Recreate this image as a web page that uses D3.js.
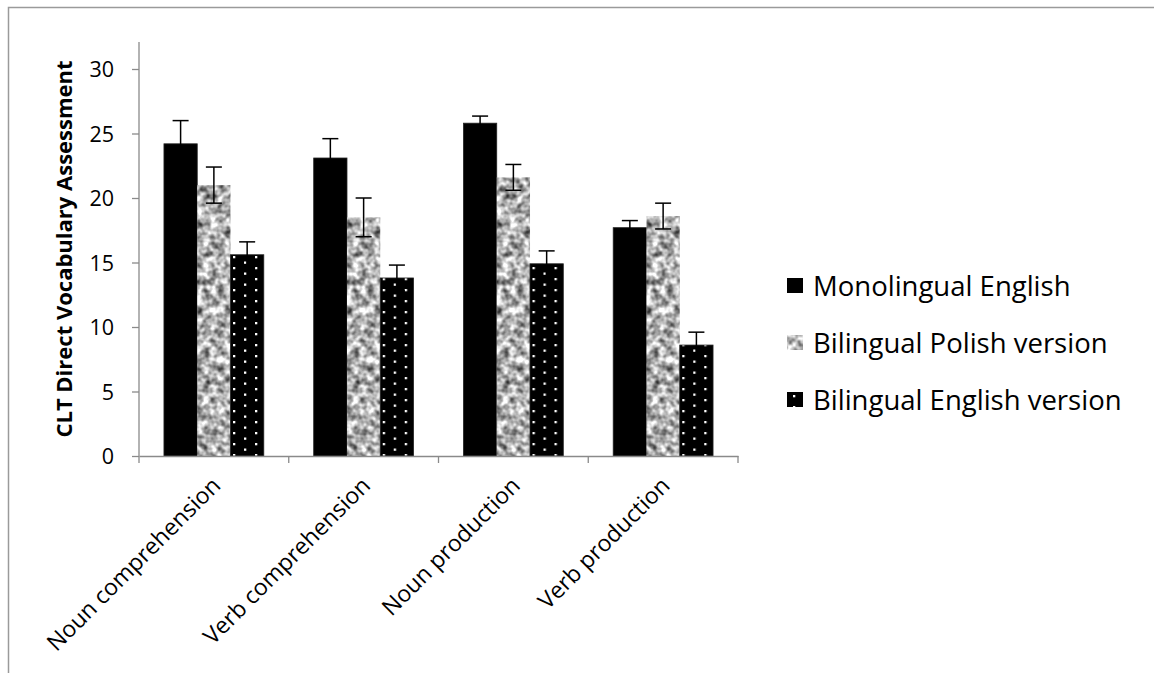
<!DOCTYPE html>
<html>
<head>
<meta charset="utf-8">
<script src="https://cdn.jsdelivr.net/npm/d3@7"></script>
<style>
  body { margin: 0; background: #fff; }
  svg text { font-family: "Open Sans", Lato, "Liberation Sans", sans-serif; fill: #000; }
</style>
</head>
<body>
<div id="my_dataviz"></div>
<script>
// chart data
var categories = ["Noun comprehension", "Verb comprehension", "Noun production", "Verb production"];
var seriesNames = ["Monolingual English", "Bilingual Polish version", "Bilingual English version"];
var monolingualEnglish = [24.2, 23.1, 25.8, 17.7];
var bilingualPolish = [21.0, 18.5, 21.6, 18.6];
var bilingualEnglish = [15.6, 13.8, 14.9, 8.6];
var monolingualErr = [1.8, 1.5, 0.55, 0.55];
var polishErr = [1.4, 1.5, 1.0, 1.0];
var englishErr = [1.0, 1.0, 1.0, 1.0];
var yTicks = [0, 5, 10, 15, 20, 25, 30];

var values = [monolingualEnglish, bilingualPolish, bilingualEnglish];
var errors = [monolingualErr, polishErr, englishErr];
var fills = ["#000", "#aaa", "url(#dots)"];

// set the dimensions of the plot area
var W = 1154, H = 673;
var plot = {left: 139, right: 738, top: 42, zero: 456, max: 69};
var axisColor = "#8a8a8a";

var svg = d3.select("#my_dataviz")
  .append("svg")
  .attr("width", W)
  .attr("height", H);

// outer frame (only top and left edges are visible)
svg.append("rect")
  .attr("x", 8.5).attr("y", 7.5)
  .attr("width", 1300).attr("height", 800)
  .attr("fill", "none")
  .attr("stroke", "#9a9a9a")
  .attr("stroke-width", 1.5);

var defs = svg.append("defs");

// grey granite texture
var f = defs.append("filter")
  .attr("id", "granite")
  .attr("x", 0).attr("y", 0).attr("width", 1).attr("height", 1)
  .attr("color-interpolation-filters", "sRGB");
f.append("feTurbulence")
  .attr("type", "fractalNoise")
  .attr("baseFrequency", 0.14)
  .attr("numOctaves", 2)
  .attr("seed", 7)
  .attr("result", "noise");
f.append("feColorMatrix")
  .attr("in", "noise")
  .attr("type", "matrix")
  .attr("values", "1.4 0 0 0 0.0  1.4 0 0 0 0.0  1.4 0 0 0 0.0  0 0 0 0 1")
  .attr("result", "grey");
f.append("feComposite")
  .attr("in", "grey").attr("in2", "SourceGraphic").attr("operator", "in");

// black with white dots
var p = defs.append("pattern")
  .attr("id", "dots")
  .attr("patternUnits", "userSpaceOnUse")
  .attr("width", 22).attr("height", 11);
p.append("rect").attr("width", 22).attr("height", 11).attr("fill", "#000");
p.append("rect").attr("x", 6).attr("y", 3).attr("width", 2.3).attr("height", 2.3).attr("fill", "#fff");
p.append("rect").attr("x", 17).attr("y", 8.5).attr("width", 2.3).attr("height", 2.3).attr("fill", "#fff");

// scales
var x = d3.scaleBand()
  .domain(categories)
  .range([plot.left, plot.right])
  .padding(0);

var x1 = d3.scaleBand()
  .domain(d3.range(seriesNames.length))
  .range([0, x.bandwidth()])
  .paddingInner(0)
  .paddingOuter(0.75);

var y = d3.scaleLinear()
  .domain([0, 30])
  .range([plot.zero, plot.max]);

// Y axis
var yAxis = svg.append("g")
  .attr("transform", "translate(" + plot.left + ",0)")
  .call(d3.axisLeft(y).tickValues(yTicks).tickSize(7).tickSizeOuter(0).tickPadding(18));
yAxis.select(".domain").remove();
yAxis.selectAll(".tick line").attr("stroke", axisColor).attr("stroke-width", 1.3);
yAxis.selectAll(".tick text").style("font-size", "21.5px").attr("dy", "0.36em");
yAxis.append("line")
  .attr("x1", 0).attr("x2", 0)
  .attr("y1", plot.top).attr("y2", plot.zero)
  .attr("stroke", axisColor).attr("stroke-width", 1.3);

svg.append("text")
  .attr("transform", "translate(72," + (plot.top + plot.zero) / 2 + ")rotate(-90)")
  .attr("text-anchor", "middle")
  .style("font-size", "22px")
  .style("font-weight", "bold")
  .text("CLT Direct Vocabulary Assessment");

// Bars
var groups = svg.selectAll("g.cat")
  .data(categories)
  .enter()
  .append("g")
  .attr("class", "cat")
  .attr("transform", function(d) { return "translate(" + x(d) + ",0)"; });

groups.each(function(cat, ci) {
  var g = d3.select(this);
  seriesNames.forEach(function(s, si) {
    var v = values[si][ci];
    var bar = g.append("rect")
      .attr("x", x1(si))
      .attr("width", x1.bandwidth())
      .attr("y", y(v))
      .attr("height", y(0) - y(v))
      .attr("fill", fills[si]);
    if (si == 1) {
      bar.attr("filter", "url(#granite)");
    } else {
      bar.attr("stroke", "#222").attr("stroke-width", 0.8);
    }
  });
  // error bars
  seriesNames.forEach(function(s, si) {
    var v = values[si][ci], e = errors[si][ci];
    var cx = x1(si) + x1.bandwidth() / 2;
    g.append("line")
      .attr("x1", cx).attr("x2", cx)
      .attr("y1", y(v + e)).attr("y2", y(v - e))
      .attr("stroke", "#000").attr("stroke-width", 1.5);
    [v + e, v - e].forEach(function(t) {
      g.append("line")
        .attr("x1", cx - 8).attr("x2", cx + 8)
        .attr("y1", y(t)).attr("y2", y(t))
        .attr("stroke", "#000").attr("stroke-width", 1.5);
    });
  });
});

// X axis
var xAxis = svg.append("g")
  .attr("transform", "translate(0," + plot.zero + ")")
  .call(d3.axisBottom(x).tickSize(0).tickSizeOuter(0).tickPadding(0));
xAxis.select(".domain").attr("stroke", axisColor).attr("stroke-width", 1.3);
xAxis.selectAll(".tick text")
  .style("font-size", "23px")
  .style("text-anchor", "end")
  .attr("dy", 0)
  .attr("transform", "translate(8,31)rotate(-45)");
xAxis.selectAll("line.sep")
  .data(categories.concat(["end"]))
  .enter()
  .append("line")
  .attr("class", "sep")
  .attr("x1", function(d) { return d == "end" ? plot.right : x(d); })
  .attr("x2", function(d) { return d == "end" ? plot.right : x(d); })
  .attr("y1", 0).attr("y2", 7)
  .attr("stroke", axisColor).attr("stroke-width", 1.3);

// Legend
var legend = svg.selectAll("g.legend")
  .data(seriesNames)
  .enter()
  .append("g")
  .attr("class", "legend")
  .attr("transform", function(d, i) { return "translate(787," + (278 + i * 57) + ")"; });
legend.append("rect")
  .attr("width", 16).attr("height", 15)
  .attr("fill", function(d, i) { return fills[i]; })
  .attr("filter", function(d, i) { return i == 1 ? "url(#granite)" : null; });
legend.append("text")
  .attr("x", 26).attr("y", 17.5)
  .style("font-size", "27.5px")
  .text(function(d) { return d; });
</script>
</body>
</html>
